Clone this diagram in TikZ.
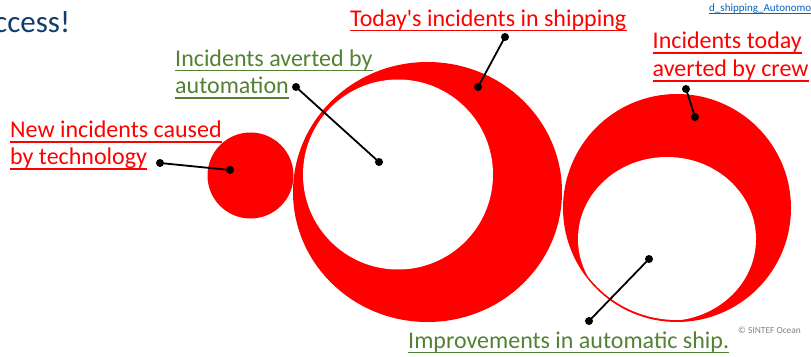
\documentclass[tikz,border=0pt]{standalone}
\usepackage{fontspec}
\setmainfont{Carlito}
\definecolor{incred}{RGB}{255,0,0}
\definecolor{incgreen}{RGB}{84,130,53}
\definecolor{titleblue}{RGB}{18,60,105}
\definecolor{linkblue}{RGB}{5,99,193}
\definecolor{logogray}{RGB}{130,130,130}
\tikzset{
  lbl/.style={inner sep=0pt, anchor=base west, font=\fontsize{24}{27}\selectfont},
  dot/.style={circle, fill=black, inner sep=0pt, minimum size=8pt},
  conn/.style={black, line width=1.8pt},
  blob/.style={fill=incred, draw=none},
  hole/.style={fill=white, draw=none}
}
\newcommand{\ulnode}[2]{\draw[#2, line width=1.6pt] ([yshift=-4.5pt]#1.base west) -- ([yshift=-4.5pt]#1.base east);}
\begin{document}
\begin{tikzpicture}[x=1pt,y=-1pt]
\useasboundingbox (0,0) rectangle (811,356);
\fill[white] (0,0) rectangle (811,356);

% shapes
\fill[blob] (250.5,175.5) circle (43);
\fill[blob] (427.5,192) ellipse [x radius=134.5, y radius=130];
\fill[hole] (398,174.5) circle (95);
\fill[blob] (677,208) circle (114);
\begin{scope}
  \clip (677,207) circle (113);
  \fill[hole] (667,239) ellipse [x radius=89, y radius=82];
\end{scope}

% title fragment
\node[inner sep=0pt, anchor=base west, text=titleblue, font=\fontsize{31}{36}\selectfont] (title) at (-6,32) {ccess!};

% link fragment
\node[inner sep=0pt, anchor=base west, text=linkblue, font=\fontsize{11}{13}\selectfont] (link) at (709,11) {d\_shipping\_Autonomou};
\draw[linkblue, line width=0.6pt] ([yshift=-2pt]link.base west) -- ([yshift=-2pt]link.base east);

% copyright
\node[inner sep=0pt, anchor=base west, text=logogray, font=\fontsize{9.4}{11}\selectfont] (copy) at (738,333) {© SINTEF Ocean};

% labels
\node[lbl, text=incred] (new1) at (10,137.5) {New incidents caused};
\node[lbl, text=incred] (new2) at (10,164.5) {by technology};
\ulnode{new1}{incred}
\ulnode{new2}{incred}

\node[lbl, text=incgreen] (auto1) at (175,66) {Incidents averted by};
\node[lbl, text=incgreen] (auto2) at (175,93.5) {automation};
\ulnode{auto1}{incgreen}
\ulnode{auto2}{incgreen}

\node[lbl, text=incred] (today) at (350,26) {Today\textquotesingle s incidents in shipping};
\ulnode{today}{incred}

\node[lbl, text=incred] (crew1) at (652.5,48.5) {Incidents today};
\node[lbl, text=incred] (crew2) at (652.5,76.5) {averted by crew};
\ulnode{crew1}{incred}
\ulnode{crew2}{incred}

\node[lbl, text=incgreen] (impr) at (408,348) {Improvements in automatic ship.};
\ulnode{impr}{incgreen}

% connector dots
\node[dot] (nA) at (160,163) {};
\node[dot] (nB) at (230,170) {};
\node[dot] (aA) at (296,87) {};
\node[dot] (aB) at (379,162) {};
\node[dot] (tA) at (505,37) {};
\node[dot] (tB) at (478,87) {};
\node[dot] (cA) at (686,89) {};
\node[dot] (cB) at (695,117) {};
\node[dot] (iA) at (649,259) {};
\node[dot] (iB) at (589,321) {};

\draw[conn] (nA.center) -- (nB.center);
\draw[conn] (aA.center) -- (aB.center);
\draw[conn] (tA.center) -- (tB.center);
\draw[conn] (cA.center) -- (cB.center);
\draw[conn] (iA.center) -- (iB.center);
\end{tikzpicture}
\end{document}
